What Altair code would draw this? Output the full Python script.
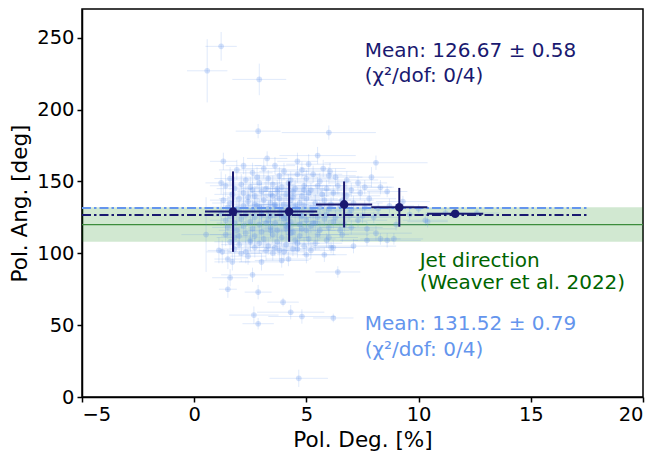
import altair as alt
import pandas as pd

# ---- cloud of individual measurements ----
pd_vals = [0.58, 1.2, 2.9, 2.85, 6.0, 0.53, 1.3, 1.2, 6.4, 2.85, 1.5, 1.6, 2.6, 3.96, 4.3, 4.8, 6.2, 2.66, 2.85, 4.66,
           3.25, 2.2, 4.6, 5.5, 5.1, 8.1, 7.9, 8.3, 8.6, 6.05, 5.75, 8.7, 10.4, 8.1, 8.6, 7.1, 5.8, 6.1, 7.7, 12.6,
           11.2, 1.25, 1.5, 1.7, 2.1, 2.4, 3.0, 3.5, 3.8, 3.9, 4.2, 4.4, 5.0, 4.6, 2.5, 2.0, 1.1, 6.2, 8.3, 8.9,
           10.3, 9.0, 9.6, 9.3, 10.0,
           1.9, 2.6, 3.1, 3.6, 4.0, 4.8, 5.3, 6.3, 6.8, 7.3, 1.6, 2.3, 2.8, 3.3, 3.8, 4.3, 4.6, 5.0, 5.6, 6.0,
           1.4, 1.8, 2.1, 2.5, 2.9, 3.2, 3.5, 3.9, 4.2, 4.5, 4.9, 5.2, 5.5, 5.9, 6.4, 7.0, 7.6, 1.7, 2.2, 2.7,
           3.0, 3.4, 3.7, 4.1, 4.4, 4.8, 5.1, 5.7, 6.2, 6.8, 7.4,
           1.3, 1.6, 2.0, 2.4, 2.7, 3.1, 3.4, 3.8, 4.0, 4.3, 4.7, 5.0, 5.4, 5.8, 6.1, 6.6, 7.1, 7.8, 1.5, 1.9,
           2.2, 2.6, 2.9, 3.3, 3.6, 3.9, 4.2, 4.6, 4.9, 5.3, 5.6, 6.0, 6.5, 7.0, 7.6, 8.2,
           1.2, 1.6, 2.0, 2.3, 2.7, 3.0, 3.4, 3.8, 4.1, 4.5, 4.8, 5.2, 5.5, 5.9, 6.3, 6.9, 7.5, 8.0, 1.4, 1.8,
           2.1, 2.5, 2.9, 3.3, 3.6, 4.0, 4.3, 4.7, 5.0, 5.4, 5.8, 6.2, 6.7, 7.3,
           1.5, 1.9, 2.2, 2.6, 3.0, 3.4, 3.7, 4.1, 4.4, 4.8, 5.2, 5.6, 6.0, 6.5, 7.0, 7.7, 1.4, 1.8, 2.3, 2.7,
           3.1, 3.5, 3.9, 4.3, 4.7, 5.1, 5.5, 6.0, 6.6,
           1.6, 2.0, 2.5, 2.9, 3.3, 3.7, 4.1, 4.5, 4.9, 5.4, 5.9, 1.8, 2.3, 2.7, 3.2, 3.6, 4.0, 4.6, 5.2,
           2.4, 3.5, 4.4, 3.0, 3.9, 4.7, 2.6, 3.7, 4.9, 3.2, 4.2, 5.3, 2.8, 3.6, 4.5, 3.4, 4.1, 5.0]
pa_vals = [227, 244, 221, 185, 184, 113, 164, 149, 87, 73, 75, 83, 85, 66, 59, 56, 55, 57, 51, 13,
           166, 161, 164, 168, 162, 163, 153, 146, 143, 157, 159, 133, 122, 114, 109, 105, 99, 104, 109, 128,
           128, 101, 96, 94, 100, 98, 94, 100, 102, 95, 96, 103, 99, 107, 108, 112, 102, 104, 110, 110,
           123, 120, 127, 136, 131,
           158, 156, 159, 161, 157, 158, 155, 153, 151, 149, 152, 151, 153, 152, 154, 151, 155, 152, 150, 154,
           147, 145, 148, 146, 149, 145, 148, 146, 149, 145, 147, 144, 147, 145, 147, 144, 146, 141, 142, 140,
           143, 141, 143, 141, 143, 140, 142, 141, 142, 140, 142,
           137, 135, 138, 136, 134, 137, 135, 138, 134, 137, 135, 138, 135, 137, 134, 137, 135, 138, 132, 131,
           133, 130, 132, 131, 133, 130, 132, 131, 133, 130, 132, 131, 133, 130, 132, 131,
           128, 126, 129, 127, 125, 128, 126, 129, 125, 128, 126, 129, 125, 127, 125, 128, 126, 125, 123, 121,
           124, 122, 120, 123, 121, 124, 122, 120, 123, 121, 124, 122, 120, 123,
           118, 116, 119, 117, 115, 118, 116, 119, 115, 117, 119, 116, 118, 116, 118, 117, 113, 111, 114, 112,
           110, 113, 111, 114, 112, 110, 113, 111, 113,
           108, 106, 109, 107, 105, 108, 106, 109, 105, 107, 109, 103, 101, 104, 102, 104, 101, 103, 102,
           139, 140, 139, 127, 126, 127, 144, 145, 144, 121, 120, 121, 133, 134, 133, 116, 117, 116]
pd_err = [0.9, 0.7, 1.2, 1.0, 2.1, 1.1, 0.6, 0.7, 1.0, 0.6, 0.4, 0.8, 1.4, 0.7, 1.5, 1.5, 0.9, 1.1, 0.7, 1.3,
          0.9, 0.8, 0.9, 1.7, 1.0, 2.3, 1.0, 0.6, 0.9, 1.2, 1.0, 1.1, 0.9, 1.6, 1.5, 1.9, 1.0, 1.1, 1.2, 1.0,
          0.9, 0.7, 0.6, 0.8, 0.9, 0.8, 1.0, 1.1, 0.9, 1.2, 1.0, 1.2, 1.3, 1.0, 0.7, 0.8, 0.5, 0.9, 0.9, 1.3,
          1.0, 1.3, 1.5, 1.2, 1.4,
          0.8, 0.9, 1.0, 0.9, 1.1, 1.2, 1.3, 1.2, 1.4, 1.3, 0.7, 0.9, 1.1, 1.0, 1.2, 1.1, 1.0, 1.3, 1.4, 1.2,
          0.7, 0.8, 0.9, 0.8, 1.0, 1.1, 1.0, 1.2, 1.1, 1.3, 1.2, 1.4, 1.3, 1.2, 1.5, 1.4, 1.2, 0.8, 0.9, 1.0,
          1.1, 1.0, 1.2, 1.1, 1.3, 1.2, 1.4, 1.3, 1.2, 1.5, 1.3,
          0.6, 0.8, 0.9, 0.8, 1.0, 1.1, 1.0, 1.2, 1.1, 1.3, 1.2, 1.4, 1.3, 1.2, 1.5, 1.4, 1.3, 1.2, 0.7, 0.8,
          0.9, 1.0, 1.1, 1.0, 1.2, 1.1, 1.3, 1.2, 1.4, 1.3, 1.2, 1.5, 1.4, 1.3, 1.2, 1.1,
          0.6, 0.8, 0.9, 0.8, 1.0, 1.1, 1.0, 1.2, 1.1, 1.3, 1.2, 1.4, 1.3, 1.2, 1.5, 1.4, 1.3, 1.2, 0.7, 0.8,
          0.9, 1.0, 1.1, 1.0, 1.2, 1.1, 1.3, 1.2, 1.4, 1.3, 1.2, 1.5, 1.4, 1.3,
          0.7, 0.8, 0.9, 1.0, 1.1, 1.0, 1.2, 1.1, 1.3, 1.2, 1.4, 1.3, 1.2, 1.5, 1.4, 1.3, 0.7, 0.8, 0.9, 1.0,
          1.1, 1.0, 1.2, 1.1, 1.3, 1.2, 1.4, 1.3, 1.2,
          0.7, 0.8, 0.9, 1.0, 1.1, 1.0, 1.2, 1.1, 1.3, 1.2, 1.4, 0.7, 0.8, 0.9, 1.0, 1.1, 1.0, 1.2, 1.1,
          0.9, 1.1, 1.2, 1.0, 1.1, 1.3, 0.9, 1.0, 1.2, 1.0, 1.1, 1.3, 0.9, 1.0, 1.2, 1.0, 1.1, 1.3]
pa_err = [22, 10, 11, 5, 5, 26, 6, 8, 4, 5, 6, 6, 5, 3, 5, 5, 3, 6, 4, 6,
          5, 6, 6, 6, 7, 5, 7, 5, 4, 6, 6, 5, 4, 5, 5, 5, 5, 4, 4, 3,
          3, 8, 7, 6, 6, 6, 6, 5, 6, 5, 5, 5, 6, 5, 7, 7, 9, 5, 4, 4,
          4, 4, 4, 4, 3,
          7, 7, 7, 6, 6, 6, 6, 6, 6, 5, 8, 7, 7, 6, 6, 6, 6, 6, 6, 6,
          8, 8, 7, 7, 6, 6, 6, 6, 6, 6, 6, 5, 6, 6, 6, 5, 5, 8, 7, 7,
          6, 6, 6, 6, 5, 6, 5, 6, 5, 5, 5,
          9, 8, 7, 7, 7, 6, 6, 6, 6, 6, 5, 5, 6, 5, 5, 5, 5, 5, 8, 8,
          7, 7, 6, 6, 6, 6, 6, 5, 5, 6, 5, 5, 5, 5, 5, 4,
          9, 8, 7, 7, 7, 6, 6, 6, 6, 6, 5, 5, 6, 5, 5, 5, 5, 4, 8, 8,
          7, 7, 6, 6, 6, 6, 6, 5, 5, 6, 5, 5, 5, 5,
          8, 8, 7, 7, 6, 6, 6, 6, 6, 5, 5, 6, 5, 5, 5, 5, 8, 8, 7, 7,
          6, 6, 6, 6, 6, 5, 5, 6, 5,
          8, 8, 7, 7, 6, 6, 6, 6, 6, 5, 5, 8, 8, 7, 7, 6, 6, 6, 6,
          6, 6, 5, 6, 6, 5, 6, 6, 5, 6, 6, 5, 6, 6, 5, 6, 6, 5]

# ---- binned averages ----
bin_pd = [1.73, 4.23, 6.68, 9.14, 11.63]
bin_pa = [129.0, 129.0, 134.0, 132.0, 127.5]
bin_pd_err = [1.25, 1.25, 1.25, 1.25, 1.25]
bin_pa_err = [28.0, 21.0, 16.0, 13.5, 1.0]

# ---- reference lines ----
mean_names = ["dark", "light"]
mean_vals = [126.67, 131.52]
mean_colors = ["#191970", "#6495ED"]
mean_x_range = [-5, 17.5]
jet_pa = 120.0
jet_err = 12.0
x_range = [-5, 20]

n = min(len(pd_vals), len(pa_vals), len(pd_err), len(pa_err))
cloud = pd.DataFrame({"pd": pd_vals[:n], "pa": pa_vals[:n], "xe": pd_err[:n], "ye": pa_err[:n]})
cloud["x1"] = cloud["pd"] - cloud["xe"]
cloud["x2"] = cloud["pd"] + cloud["xe"]
cloud["y1"] = cloud["pa"] - cloud["ye"]
cloud["y2"] = cloud["pa"] + cloud["ye"]

bins = pd.DataFrame({"pd": bin_pd, "pa": bin_pa, "xe": bin_pd_err, "ye": bin_pa_err})
bins["x1"] = bins["pd"] - bins["xe"]
bins["x2"] = bins["pd"] + bins["xe"]
bins["y1"] = bins["pa"] - bins["ye"]
bins["y2"] = bins["pa"] + bins["ye"]

means = pd.DataFrame({"name": mean_names, "val": mean_vals, "color": mean_colors,
                      "x1": [mean_x_range[0]] * 2, "x2": [mean_x_range[1]] * 2})
jet = pd.DataFrame({"x1": [x_range[0]], "x2": [x_range[1]], "y": [jet_pa],
                    "lo": [jet_pa - jet_err], "hi": [jet_pa + jet_err]})

xs = alt.Scale(domain=[-5, 20], nice=False, zero=False)
ys = alt.Scale(domain=[0, 270], nice=False, zero=False)
X = lambda f, **k: alt.X(f, scale=xs, axis=alt.Axis(values=[-5, 0, 5, 10, 15, 20], title="Pol. Deg. [%]"), **k)
Y = lambda f, **k: alt.Y(f, scale=ys, axis=alt.Axis(values=[0, 50, 100, 150, 200, 250], title="Pol. Ang. [deg]"), **k)

base_jet = alt.Chart(jet)
band = base_jet.mark_rect(color="green", opacity=0.18).encode(
    x=X("x1:Q"), x2="x2:Q", y=Y("lo:Q"), y2="hi:Q")
jline = base_jet.mark_rule(color="#3c8c3c", strokeWidth=1.2).encode(
    x=X("x1:Q"), x2="x2:Q", y=Y("y:Q"))

cbase = alt.Chart(cloud)
c_h = cbase.mark_rule(color="#6495ED", opacity=0.2, strokeWidth=1).encode(
    x=X("x1:Q"), x2="x2:Q", y=Y("pa:Q"))
c_v = cbase.mark_rule(color="#6495ED", opacity=0.2, strokeWidth=1).encode(
    x=X("pd:Q"), y=Y("y1:Q"), y2="y2:Q")
c_p = cbase.mark_circle(color="#6495ED", opacity=0.27, size=32).encode(
    x=X("pd:Q"), y=Y("pa:Q"))

mlines = alt.Chart(means).mark_rule(strokeWidth=2, strokeDash=[9, 3, 2.5, 3]).encode(
    x=X("x1:Q"), x2="x2:Q", y=Y("val:Q"), color=alt.Color("color:N", scale=None))

bbase = alt.Chart(bins)
b_h = bbase.mark_rule(color="#191970", strokeWidth=2).encode(x=X("x1:Q"), x2="x2:Q", y=Y("pa:Q"))
b_v = bbase.mark_rule(color="#191970", strokeWidth=2).encode(x=X("pd:Q"), y=Y("y1:Q"), y2="y2:Q")
b_p = bbase.mark_circle(color="#191970", opacity=1, size=75).encode(x=X("pd:Q"), y=Y("pa:Q"))

txt = pd.DataFrame({
    "x": [7.6, 7.6, 10.05, 10.05, 7.6, 7.6],
    "y": [241, 223.5, 94.5, 79, 50.5, 33],
    "t": ["Mean: 126.67 ± 0.58", "(χ²/dof: 0/4)", "Jet direction", "(Weaver et al. 2022)",
          "Mean: 131.52 ± 0.79", "(χ²/dof: 0/4)"],
    "c": ["#191970", "#191970", "#006400", "#006400", "#6495ED", "#6495ED"],
})
texts = alt.Chart(txt).mark_text(align="left", baseline="middle", fontSize=20, font="DejaVu Sans").encode(
    x=X("x:Q"), y=Y("y:Q"), text="t:N", color=alt.Color("c:N", scale=None))

chart = alt.layer(band, jline, c_h, c_v, c_p, mlines, b_h, b_v, b_p, texts).properties(
    width=561, height=388, autosize="none",
    padding={"left": 74, "top": 1, "right": 5, "bottom": 56},
).configure_view(stroke="black", strokeWidth=1.5).configure_axis(
    grid=False, domainColor="black", domainWidth=1.5, tickColor="black", tickWidth=1.5, tickSize=5,
    labelFont="DejaVu Sans", labelFontSize=19.5, labelColor="black", labelPadding=3,
    titleFont="DejaVu Sans", titleFontSize=21.5, titleFontWeight="normal", titleColor="black",
).configure_axisY(titlePadding=5).configure_axisX(titlePadding=6)

chart.save("out.html", embed_options={"renderer": "svg", "actions": False})
